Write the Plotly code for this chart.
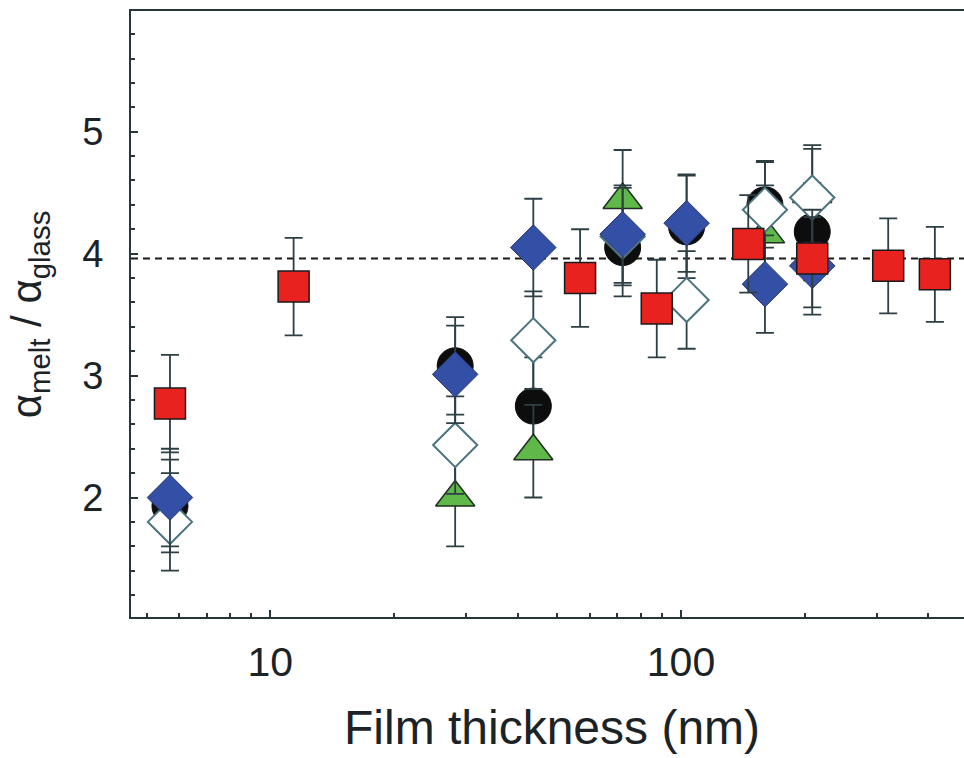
import plotly.graph_objects as go

# ---- data ----
x_red = [5.7, 11.4, 56.8, 87.3, 145.8, 208.7, 319.5, 415.0]
y_red = [2.77, 3.73, 3.80, 3.55, 4.08, 3.96, 3.90, 3.83]
err_red = [0.40, 0.40, 0.40, 0.40, 0.40, 0.40, 0.39, 0.39]

x_blue = [5.7, 28.2, 43.7, 72.1, 103.2, 160.1, 208.7]
y_blue = [2.00, 3.01, 4.05, 4.16, 4.25, 3.75, 3.90]
err_blue = [0.40, 0.40, 0.40, 0.40, 0.40, 0.40, 0.40]

x_open = [5.7, 28.2, 43.7, 72.1, 103.2, 160.1, 208.7]
y_open = [1.80, 2.43, 3.29, 4.14, 3.62, 4.36, 4.46]
err_open = [0.40, 0.40, 0.40, 0.40, 0.40, 0.40, 0.40]

x_black = [5.7, 28.2, 43.7, 72.1, 103.2, 160.1, 208.7]
y_black = [1.93, 3.08, 2.75, 4.05, 4.22, 4.40, 4.18]
err_black = [0.38, 0.40, 0.40, 0.40, 0.42, 0.35, 0.40]

x_green = [28.2, 43.7, 72.1, 160.1, 208.7]
y_green = [2.00, 2.38, 4.44, 4.16, 4.49]
err_green = [0.40, 0.38, 0.41, 0.40, 0.40]

bulk_ratio = 3.96

x_major = [10, 100]
x_major_text = ["10", "100"]
x_minor = [5, 6, 7, 8, 9, 20, 30, 40, 50, 60, 70, 80, 90, 200, 300, 400]
y_major = [2, 3, 4, 5]
y_minor = [1.2, 1.4, 1.6, 1.8, 2.2, 2.4, 2.6, 2.8, 3.2, 3.4, 3.6, 3.8,
           4.2, 4.4, 4.6, 4.8, 5.2, 5.4, 5.6, 5.8]

AX = "#26363c"
ERR = "#2c3f45"
TXT = "#1c2326"
FONT = "Liberation Sans"


def err(vals):
    return dict(type="data", array=vals, visible=True, color=ERR,
                thickness=1.8, width=9)


fig = go.Figure()

fig.add_trace(go.Scatter(
    x=x_black, y=y_black, mode="markers", error_y=err(err_black),
    marker=dict(symbol="circle", size=36, color="#0d0d0d",
                line=dict(color="#0d0d0d", width=1))))

fig.add_trace(go.Scatter(
    x=x_green, y=y_green, mode="markers", error_y=err(err_green),
    marker=dict(symbol="triangle-up", size=34, color="#5fb847",
                line=dict(color="#1f2d22", width=1.5))))

fig.add_trace(go.Scatter(
    x=x_open, y=y_open, mode="markers", error_y=err(err_open),
    marker=dict(symbol="diamond", size=34, color="white",
                line=dict(color="#4a7480", width=2))))

fig.add_trace(go.Scatter(
    x=x_blue, y=y_blue, mode="markers", error_y=err(err_blue),
    marker=dict(symbol="diamond", size=35, color="#3450a6",
                line=dict(color="#26346a", width=1))))

fig.add_trace(go.Scatter(
    x=x_red, y=y_red, mode="markers", error_y=err(err_red),
    marker=dict(symbol="square", size=31, color="#e8231f",
                line=dict(color="#1a1a1a", width=1.5))))

fig.add_shape(type="line", xref="paper", x0=0, x1=1, yref="y",
              y0=bulk_ratio, y1=bulk_ratio,
              line=dict(color="#1a1a1a", width=1.8, dash="7px,5px"),
              layer="below")

fig.update_layout(
    width=964, height=758,
    margin=dict(l=131, r=0, t=11, b=141),
    paper_bgcolor="white", plot_bgcolor="white",
    showlegend=False,
    font=dict(family=FONT, color=TXT),
    xaxis=dict(
        type="log", range=[0.661, 2.689],
        showgrid=False, zeroline=False,
        showline=True, linecolor=AX, linewidth=2, mirror=True,
        tickmode="array", tickvals=x_major, ticktext=x_major_text,
        ticks="inside", ticklen=7, tickwidth=1.5, tickcolor=AX,
        tickfont=dict(size=41, family=FONT, color=TXT),
        ticklabelstandoff=8,
        minor=dict(tickmode="array", tickvals=x_minor, ticks="inside",
                   ticklen=4, tickwidth=1.5, tickcolor=AX, showgrid=False),
    ),
    yaxis=dict(
        range=[1.02, 5.99],
        showgrid=False, zeroline=False,
        showline=True, linecolor=AX, linewidth=2, mirror=False,
        tickmode="array", tickvals=y_major,
        ticks="inside", ticklen=7, tickwidth=1.5, tickcolor=AX,
        tickfont=dict(size=38, family=FONT, color=TXT),
        ticklabelstandoff=18,
        minor=dict(tickmode="array", tickvals=y_minor, ticks="inside",
                   ticklen=4, tickwidth=1.5, tickcolor=AX, showgrid=False),
    ),
    annotations=[
        dict(text="Film thickness (nm)", xref="paper", yref="paper",
             x=0.505, y=-0.183, xanchor="center", yanchor="middle",
             showarrow=False, font=dict(size=48, family=FONT, color=TXT)),
        dict(text="α<sub>melt</sub> / α<sub>glass</sub>", xref="paper",
             yref="paper", x=-0.122, y=0.5, xanchor="center",
             yanchor="middle", textangle=-90, showarrow=False,
             font=dict(size=42, family=FONT, color=TXT)),
    ],
)

fig.write_html("out.html",
               config={"displayModeBar": False},
               post_script="document.body.style.margin='0';"
                           "document.body.style.overflow='hidden';")
